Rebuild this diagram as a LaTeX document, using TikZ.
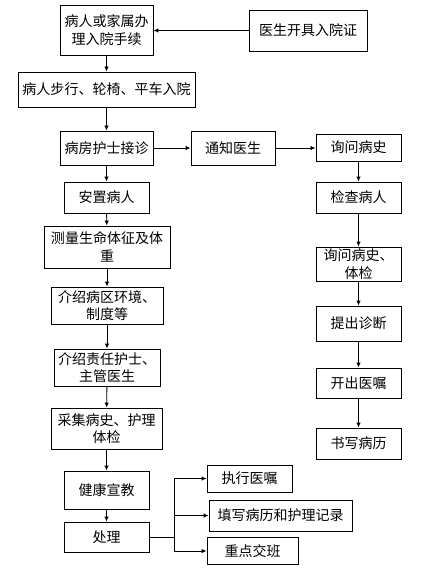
\documentclass[tikz,border=0pt]{standalone}
\usepackage{fontspec}
\newfontfamily\cjk{Noto Sans CJK SC}
\usetikzlibrary{arrows.meta}
\begin{document}
\begin{tikzpicture}[x=1bp,y=-1bp,
  box/.style={draw,line width=0.9bp,inner sep=0pt,align=center,
    font=\cjk\fontsize{14bp}{17.5bp}\selectfont},
  arr/.style={draw,line width=0.9bp,-{Latex[length=5bp,width=4.5bp]}},
  ln/.style={draw,line width=0.9bp}]
\useasboundingbox (0,0) rectangle (430,573);
\node[box,minimum width=93bp,minimum height=50bp] (A) at (106.5,30) {病人或家属办\\理入院手续};
\node[box,minimum width=118bp,minimum height=41bp] (B) at (308,30.5) {医生开具入院证};
\node[box,minimum width=177bp,minimum height=35bp] (C) at (106.5,89.5) {病人步行、轮椅、平车入院};
\node[box,minimum width=93bp,minimum height=34bp] (D) at (106.5,148) {病房护士接诊};
\node[box,minimum width=84bp,minimum height=34bp] (E) at (233,148) {通知医生};
\node[box,minimum width=85bp,minimum height=27bp] (F) at (358.5,147.5) {询问病史};
\node[box,minimum width=85bp,minimum height=31bp] (G) at (106.5,197.5) {安置病人};
\node[box,minimum width=85bp,minimum height=31bp] (H) at (358.5,197.5) {检查病人};
\node[box,minimum width=126bp,minimum height=42bp] (I) at (107,247) {测量生命体征及体\\重};
\node[box,minimum width=112bp,minimum height=37bp] (J) at (107,305.5) {介绍病区环境、\\制度等};
\node[box,minimum width=85bp,minimum height=34bp] (K) at (358.5,264) {询问病史、\\体检};
\node[box,minimum width=85bp,minimum height=35bp] (L) at (358.5,323.5) {提出诊断};
\node[box,minimum width=106bp,minimum height=37bp] (M) at (107,367.5) {介绍责任护士、\\主管医生};
\node[box,minimum width=85bp,minimum height=30bp] (N) at (358.5,383) {开出医嘱};
\node[box,minimum width=111bp,minimum height=41bp] (O) at (106.5,428.5) {采集病史、护理\\体检};
\node[box,minimum width=85bp,minimum height=31bp] (P) at (358.5,443.5) {书写病历};
\node[box,minimum width=85bp,minimum height=38bp] (Q) at (106.5,490) {健康宣教};
\node[box,minimum width=85bp,minimum height=30bp] (R) at (106.5,537) {处理};
\node[box,minimum width=85bp,minimum height=27bp] (S) at (249.5,478.5) {执行医嘱};
\node[box,minimum width=143bp,minimum height=31bp] (T) at (280.5,515.5) {填写病历和护理记录};
\node[box,minimum width=91bp,minimum height=27bp] (U) at (252.5,551) {重点交班};
\coordinate (br) at (174,537);
\draw[arr] (B.west) -- (A.east |- B.west);
\draw[arr] (A.south -| C.north) -- (C.north);
\draw[arr] (C) -- (D);
\draw[arr] (D) -- (E);
\draw[arr] (E) -- (F.west |- E.east);
\draw[arr] (D) -- (G);
\draw[arr] (F) -- (H);
\draw[arr] (G) -- (I);
\draw[arr] (I) -- (J);
\draw[arr] (J) -- (M);
\draw[arr] (M) -- (O);
\draw[arr] (O) -- (Q);
\draw[arr] (Q) -- (R);
\draw[arr] (H) -- (K);
\draw[arr] (K) -- (L);
\draw[arr] (L) -- (N);
\draw[arr] (N) -- (P);
\draw[ln] (R.east) -- (br);
\draw[ln] (br |- S.west) -- (br |- U.west);
\draw[arr] (br |- S.west) -- (S.west);
\draw[arr] (br |- T.west) -- (T.west);
\draw[arr] (br |- U.west) -- (U.west);
\end{tikzpicture}
\end{document}
